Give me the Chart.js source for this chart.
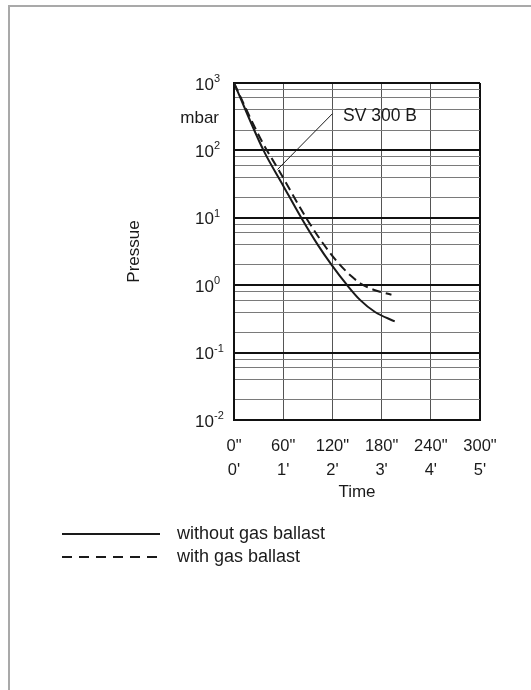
<!DOCTYPE html>
<html>
<head>
<meta charset="utf-8">
<script src="https://cdn.jsdelivr.net/npm/chart.js@4.4.1/dist/chart.umd.min.js"></script>
<style>
  html, body { margin: 0; padding: 0; background: #fff; }
  #wrap { position: relative; width: 531px; height: 690px; }
</style>
</head>
<body>
<div id="wrap"><canvas id="c" width="531" height="690"></canvas></div>
<script>
// ---- data ----
const timeSolid   = [0, 36, 60, 82, 102, 119, 138, 154, 172, 196];
const pressSolid  = [1000, 100, 30, 10, 4, 2, 1, 0.6, 0.4, 0.29];
const timeDashed  = [0, 33.5, 55, 88, 108, 127, 144, 156, 171, 192];
const pressDashed = [1000, 140, 50, 10, 4.26, 2.15, 1.33, 1.03, 0.85, 0.72];
const leaderTime  = [53, 120];
const leaderPress = [52, 350];
const xTickSeconds = ['0"', '60"', '120"', '180"', '240"', '300"'];
const xTickMinutes = ["0'", "1'", "2'", "3'", "4'", "5'"];
const yExponents  = [3, 2, 1, 0, -1, -2];
const yMinorMult  = [2, 4, 6, 8];
const seriesNames = ['without gas ballast', 'with gas ballast'];
const modelLabel  = 'SV 300 B';
const unitLabel   = 'mbar';

const toPts = (xs, ys) => xs.map((x, i) => ({ x: x, y: ys[i] }));
const yTickValues = [];
yExponents.forEach(e => {
  yTickValues.push(Math.pow(10, e));
  if (e < 3) yMinorMult.forEach(m => yTickValues.push(m * Math.pow(10, e)));
});
const isDecade = v => Math.abs(Math.log10(v) - Math.round(Math.log10(v))) < 1e-6;

const FONT = '"Liberation Sans", Arial, Helvetica, sans-serif';
const INK = '#1a1a1a';

const extras = {
  id: 'extras',
  beforeDraw(chart) {
    const ctx = chart.ctx;
    ctx.save();
    ctx.fillStyle = '#fff';
    ctx.fillRect(0, 0, chart.width, chart.height);
    ctx.fillStyle = '#a9a9a9';
    ctx.fillRect(8, 5, chart.width - 8, 2);
    ctx.fillRect(8, 5, 2, chart.height - 5);
    ctx.restore();
  },
  afterDraw(chart) {
    const ctx = chart.ctx;
    const ys = chart.scales.y, xs = chart.scales.x;
    ctx.save();
    ctx.fillStyle = INK;
    // y decade labels with superscripts
    yExponents.forEach(e => {
      const py = ys.getPixelForValue(Math.pow(10, e));
      ctx.font = '17px ' + FONT;
      ctx.textAlign = 'left';
      ctx.textBaseline = 'middle';
      ctx.fillText('10', 195, py + 2);
      ctx.font = '11px ' + FONT;
      ctx.textBaseline = 'alphabetic';
      ctx.fillText(String(e), 214, py - 1);
    });
    // unit
    ctx.font = '17px ' + FONT;
    ctx.textAlign = 'right';
    ctx.textBaseline = 'middle';
    ctx.fillText(unitLabel, 219, ys.getPixelForValue(300));
    // model label at the end of the leader
    ctx.font = '17.5px ' + FONT;
    ctx.textAlign = 'left';
    ctx.fillText(modelLabel, xs.getPixelForValue(133), ys.getPixelForValue(320));
    // legend
    const L = [[534, []], [557, [10, 7]]];
    L.forEach((row, i) => {
      ctx.strokeStyle = INK;
      ctx.lineWidth = 2;
      ctx.setLineDash(row[1]);
      ctx.beginPath();
      ctx.moveTo(62, row[0]);
      ctx.lineTo(160, row[0]);
      ctx.stroke();
      ctx.setLineDash([]);
      ctx.font = '18px ' + FONT;
      ctx.textAlign = 'left';
      ctx.textBaseline = 'middle';
      ctx.fillText(seriesNames[i], 177, row[0]);
    });
    ctx.restore();
  }
};

new Chart(document.getElementById('c'), {
  type: 'line',
  data: {
    datasets: [
      { label: seriesNames[0], data: toPts(timeSolid, pressSolid), borderColor: INK, borderWidth: 2,
        pointRadius: 0, cubicInterpolationMode: 'monotone', fill: false },
      { label: seriesNames[1], data: toPts(timeDashed, pressDashed), borderColor: INK, borderWidth: 2,
        borderDash: [9, 5], pointRadius: 0, cubicInterpolationMode: 'monotone', fill: false },
      { label: 'leader', data: toPts(leaderTime, leaderPress), borderColor: INK, borderWidth: 1,
        pointRadius: 0, tension: 0, fill: false }
    ]
  },
  options: {
    responsive: false,
    animation: false,
    devicePixelRatio: 1,
    layout: { padding: { left: 0, right: 51, top: 83, bottom: 187 } },
    plugins: { legend: { display: false }, tooltip: { enabled: false } },
    scales: {
      x: {
        type: 'linear', min: 0, max: 300,
        afterFit: s => { s.height = 83; },
        afterBuildTicks: s => { s.ticks = xTickSeconds.map((t, i) => ({ value: i * 60 })); },
        ticks: {
          autoSkip: false, maxRotation: 0,
          padding: 14,
          color: INK,
          font: { family: FONT, size: 16.5, lineHeight: 24 / 16.5 },
          callback: (v, i) => [xTickSeconds[i], xTickMinutes[i]]
        },
        grid: {
          drawTicks: false,
          color: c => (c.tick && c.tick.value === 300) ? '#111' : (c.tick && c.tick.value === 0 ? 'rgba(0,0,0,0)' : '#555'),
          lineWidth: c => (c.tick && c.tick.value === 300) ? 2 : 1
        },
        border: { display: true, color: '#111', width: 2 },
        title: { display: true, text: 'Time', color: INK, font: { family: FONT, size: 17 }, padding: { top: 0, bottom: 0 } }
      },
      y: {
        type: 'logarithmic', min: 0.01, max: 1000,
        afterFit: s => { s.width = 234; },
        afterBuildTicks: s => { s.ticks = yTickValues.map(v => ({ value: v })); },
        ticks: { display: false },
        grid: {
          drawTicks: false,
          color: c => (c.tick && isDecade(c.tick.value)) ? '#111' : '#7a7a7a',
          lineWidth: c => (c.tick && isDecade(c.tick.value)) ? 2 : 1
        },
        border: { display: true, color: '#111', width: 2 },
        title: { display: true, text: 'Pressue', color: INK, font: { family: FONT, size: 17 }, padding: { top: 124, bottom: 0 } }
      }
    }
  },
  plugins: [extras]
});
</script>
</body>
</html>
